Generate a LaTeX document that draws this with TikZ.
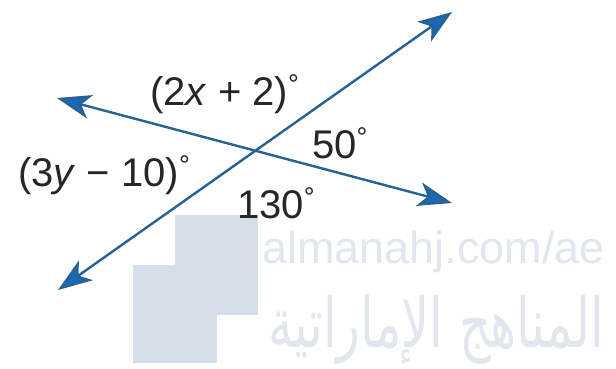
\documentclass[tikz,border=0pt]{standalone}
\usepackage{fontspec}
\setmainfont{Liberation Sans}
\newfontfamily\arabicfont[Script=Arabic]{DejaVu Sans}
\usetikzlibrary{arrows.meta}
\TeXXeTstate=1
\definecolor{linecol}{RGB}{38,98,150}
\definecolor{tipcol}{RGB}{25,105,180}
\definecolor{wmblock}{RGB}{214,222,234}
\definecolor{wmtext}{RGB}{226,231,239}
\newcommand{\dg}{\raisebox{0.55ex}{\fontsize{27}{27}\selectfont°}}
\tikzset{
  ray/.style={line width=2.4pt, draw=linecol, line cap=round,
    {Stealth[length=34pt,width=24pt,inset=9pt,fill=tipcol]}-{Stealth[length=34pt,width=24pt,inset=9pt,fill=tipcol]}},
  lab/.style={font=\fontsize{40}{44}\selectfont, inner sep=0pt, anchor=base west, text=black!85},
  wm/.style={inner sep=0pt, text=wmtext}
}
\begin{document}
\begin{tikzpicture}[x=1pt,y=-1pt]
\useasboundingbox (0,0) rectangle (616,369);
\fill[white] (0,0) rectangle (616,369);
% watermark
\fill[wmblock] (175,215) rectangle (258,315);
\fill[wmblock] (133,265) rectangle (217,363);
\node[wm, anchor=base west, font=\fontsize{45}{48}\selectfont] (wmurl) at (262,263) {almanahj.com/ae};
\node[wm, anchor=center, xscale=1.07, yscale=1.5, font=\arabicfont\fontsize{46}{50}\selectfont] (wmar) at (436,330) {\beginR المناهج الإماراتية\endR};
% lines
\coordinate (A1) at (58,290);
\coordinate (A2) at (452,12);
\coordinate (B1) at (57,98);
\coordinate (B2) at (452,203);
\draw[ray] (A1) -- (A2);
\draw[ray] (B1) -- (B2);
% labels
\node[lab] (l1) at (150,105) {(2\textit{x} + 2)\dg};
\node[lab] (l2) at (312,158) {50\dg};
\node[lab] (l3) at (18,186) {(3\textit{y} − 10)\dg};
\node[lab] (l4) at (237,218) {130\dg};
\end{tikzpicture}
\end{document}
